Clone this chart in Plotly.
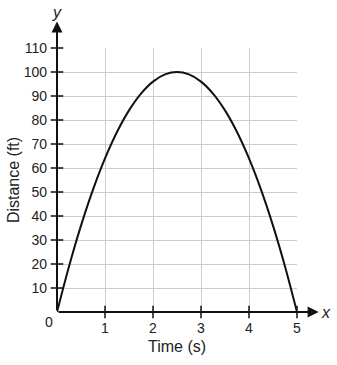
import plotly.graph_objects as go

# Data
time_s = [0, 0.25, 0.5, 0.75, 1, 1.25, 1.5, 1.75, 2, 2.25, 2.5, 2.75, 3, 3.25, 3.5, 3.75, 4, 4.25, 4.5, 4.75, 5]
distance_ft = [0, 19, 36, 51, 64, 75, 84, 91, 96, 99, 100, 99, 96, 91, 84, 75, 64, 51, 36, 19, 0]
x_ticks = [1, 2, 3, 4, 5]
y_ticks = [10, 20, 30, 40, 50, 60, 70, 80, 90, 100, 110]

font = "Liberation Sans, Arial, sans-serif"
tickfont = dict(family=font, size=14, color="#222")
titlefont = dict(family=font, size=16, color="#222")

fig = go.Figure()
fig.add_trace(go.Scatter(x=time_s, y=distance_ft, mode="lines",
                         line=dict(color="#111", width=2, shape="spline"),
                         hoverinfo="skip", showlegend=False, cliponaxis=False))
# tick crosses on the axes
fig.add_trace(go.Scatter(x=x_ticks, y=[0]*len(x_ticks), mode="markers",
                         marker=dict(symbol="line-ns", size=9, line=dict(color="#111", width=1.5)),
                         showlegend=False, hoverinfo="skip", cliponaxis=False))
fig.add_trace(go.Scatter(x=[0]*len(y_ticks), y=y_ticks, mode="markers",
                         marker=dict(symbol="line-ew", size=9, line=dict(color="#111", width=1.5)),
                         showlegend=False, hoverinfo="skip", cliponaxis=False))

fig.update_layout(
    width=337, height=365,
    margin=dict(l=57, r=40, t=48, b=53, autoexpand=False),
    paper_bgcolor="white", plot_bgcolor="white",
    font=dict(family=font, size=14, color="#222"),
    xaxis=dict(range=[0, 5], tickvals=x_ticks, ticks="", showline=False, zeroline=False,
               showgrid=True, gridcolor="#cccccc", gridwidth=1, automargin=False,
               ticklabelstandoff=6, tickfont=tickfont,
               title=dict(text="Time (s)", font=titlefont, standoff=5)),
    yaxis=dict(range=[0, 110], tickvals=y_ticks, ticks="", showline=False, zeroline=False,
               showgrid=True, gridcolor="#cccccc", gridwidth=1, automargin=False,
               ticklabelstandoff=9, tickfont=tickfont,
               title=dict(text="Distance (ft)", font=titlefont, standoff=0)),
    showlegend=False,
)

# axes with arrows
fig.add_annotation(x=5.45, y=0, ax=0, ay=0, xref="x", yref="y", axref="x", ayref="y",
                   showarrow=True, arrowhead=2, arrowsize=1.1, arrowwidth=2, arrowcolor="#111", text="")
fig.add_annotation(x=0, y=121, ax=0, ay=0, xref="x", yref="y", axref="x", ayref="y",
                   showarrow=True, arrowhead=2, arrowsize=1.1, arrowwidth=2, arrowcolor="#111", text="")
fig.add_annotation(x=1.121, y=0, xref="paper", yref="paper", text="<i>x</i>", showarrow=False,
                   xanchor="center", yanchor="middle", font=titlefont)
fig.add_annotation(x=0, y=1.136, xref="paper", yref="paper", text="<i>y</i>", showarrow=False,
                   xanchor="center", yanchor="middle", font=titlefont)
fig.add_annotation(x=-0.033, y=-0.038, xref="paper", yref="paper", text="0", showarrow=False,
                   xanchor="center", yanchor="middle", font=tickfont)

fig.write_html("out.html")
